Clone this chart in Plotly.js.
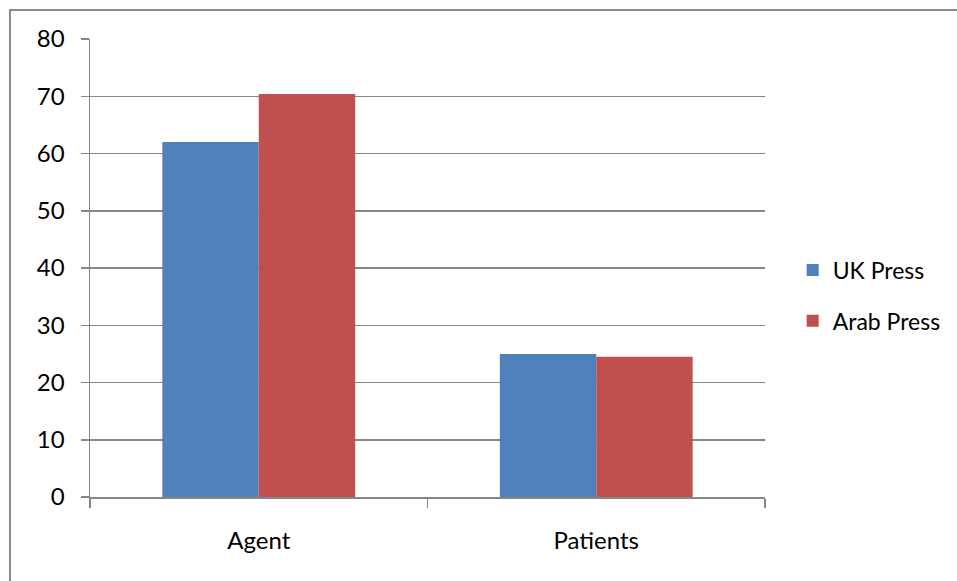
<!DOCTYPE html>
<html>
<head>
<meta charset="utf-8">
<script src="https://cdn.plot.ly/plotly-3.0.1.min.js"></script>
<style>
html,body{margin:0;padding:0;background:#fff;}
#wrap{position:relative;width:957px;height:581px;overflow:hidden;}
#chart{position:absolute;left:0;top:0;width:957px;height:581px;}
#frame{position:absolute;left:9px;top:9px;width:960px;height:600px;border-top:2px solid #8a8a8a;border-left:2px solid #8a8a8a;pointer-events:none;}
</style>
</head>
<body>
<div id="wrap"><div id="chart"></div><div id="frame"></div></div>
<script>
const categories = ["Agent", "Patients"];
const seriesNames = ["UK Press", "Arab Press"];
const ukPress = [62, 25];
const arabPress = [70.4, 24.5];
const yTicks = [0, 10, 20, 30, 40, 50, 60, 70, 80];

const colors = ["#4f81bd", "#c0504d"];
const font = "Lato, 'Open Sans', sans-serif";

const traces = [
  {type: "bar", name: seriesNames[0], legendgroup: "a", x: categories, y: ukPress, marker: {color: colors[0]}},
  {type: "bar", name: seriesNames[1], legendgroup: "b", x: categories, y: arabPress, marker: {color: colors[1]}}
];

const layout = {
  width: 957, height: 581,
  margin: {l: 90, r: 192, t: 39, b: 84, pad: 0, autoexpand: false},
  paper_bgcolor: "#ffffff", plot_bgcolor: "#ffffff",
  barmode: "group", bargap: 0.4286, bargroupgap: 0,
  font: {family: font, size: 24, color: "#000000"},
  showlegend: true,
  legend: {x: 1.041, y: 0.44, xanchor: "left", yanchor: "middle", traceorder: "grouped", font: {family: font, size: 23, color: "#000"}, tracegroupgap: 18, itemwidth: 30, bgcolor: "rgba(0,0,0,0)"},
  xaxis: {
    type: "category", tickson: "boundaries", ticks: "outside", ticklen: 9, tickwidth: 1.5, tickcolor: "#868686",
    showline: true, linecolor: "#868686", linewidth: 1.5, showgrid: false, zeroline: false,
    tickfont: {family: font, size: 24, color: "#000"}, ticklabelstandoff: 22
  },
  yaxis: {
    range: [0, 80], tickvals: yTicks, ticktext: yTicks.map(String), ticks: "outside", ticklen: 8, tickwidth: 1.5, tickcolor: "#868686",
    showline: true, linecolor: "#868686", linewidth: 1.5, showgrid: true, gridcolor: "#868686", gridwidth: 1.5, zeroline: false,
    tickfont: {family: font, size: 24, color: "#000"}, ticklabelstandoff: 11
  }
};

Plotly.newPlot("chart", traces, layout, {displayModeBar: false, staticPlot: true});
</script>
</body>
</html>
